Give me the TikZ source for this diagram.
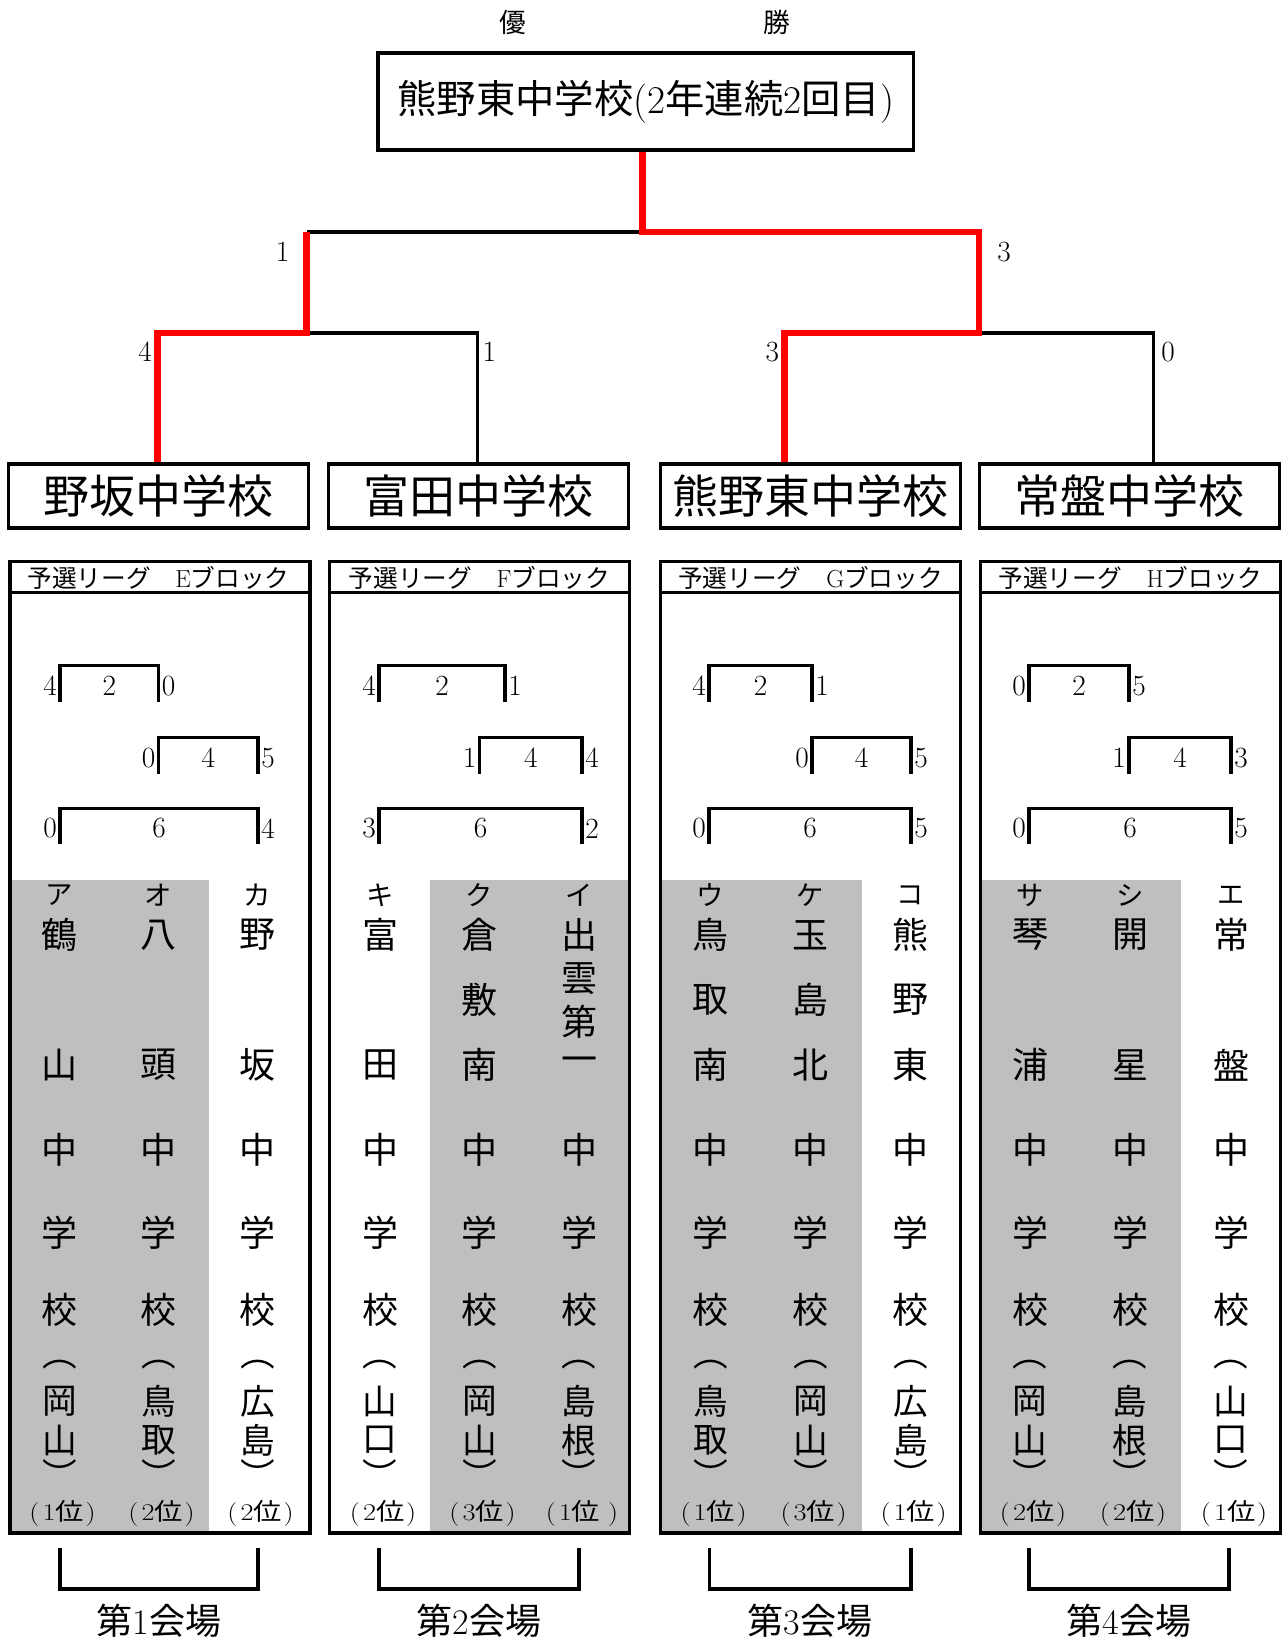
\documentclass[tikz,border=0pt]{standalone}
\usepackage{fontspec}
\newfontfamily\jp{Noto Sans CJK JP}
\usetikzlibrary{positioning}

\definecolor{winred}{RGB}{255,0,0}
\definecolor{leaguegray}{RGB}{191,191,191}

\tikzset{
  champbox/.style={draw, line width=2.5pt, minimum width=401.6pt, minimum height=72.75pt, inner sep=0pt, font=\fontsize{29.5}{34}\selectfont},
  teambox/.style={draw, line width=2.5pt, minimum width=225pt, minimum height=48pt, inner sep=0pt, font=\jp\fontsize{34.5}{40}\selectfont},
  treeline/.style={line width=2.3pt},
  winline/.style={line width=5pt, draw=winred},
  blockline/.style={line width=2.5pt},
  bracketline/.style={line width=2.3pt},
  score/.style={inner sep=0pt, font=\fontsize{22}{26}\selectfont},
  title/.style={inner sep=0pt, font=\jp\fontsize{20}{24}\selectfont},
  hdr/.style={inner sep=0pt, font=\fontsize{18.5}{22}\selectfont},
  kana/.style={inner sep=0pt, font=\jp\fontsize{20.5}{24}\selectfont},
  kanji/.style={inner sep=0pt, font=\jp\fontsize{27}{30}\selectfont},
  pref/.style={inner sep=0pt, font=\jp\fontsize{26}{30}\selectfont},
  rank/.style={inner sep=0pt, font=\fontsize{18}{22}\selectfont},
  venue/.style={inner sep=0pt, font=\fontsize{27}{32}\selectfont}
}

\newcommand{\leaguebox}[3]{%
  \fill[leaguegray] (#2,880) rectangle (#3,1533);
  \draw[blockline] (#1,561.7) rectangle ({#1+300},1533);
  \draw[blockline] (#1,592.7) -- ({#1+300},592.7);
}
\newcommand{\rrbracket}[7]{%
  \draw[bracketline] (#2,#4+36) -- (#2,#4) -- (#3,#4) -- (#3,#4+36);
  \node[score, anchor=east] (#1l) at (#2-3,#4+20) {#5};
  \node[score] (#1m) at ({(#2+#3)/2},#4+20) {#6};
  \node[score, anchor=west] (#1r) at (#3+3,#4+20) {#7};
}
\newcommand{\rk}[2][1pt]{\scalebox{1.18}[1]{(\hspace{2pt}#2{\jp 位}\hspace{#1})}}
\newcommand{\schoolcol}[8]{%
  \node[kana] (#1k) at (#2,895) {#3};
  \foreach \c [count=\i] in {#5} {
    \node[kanji] (#1n\i) at (#2,{935+(\i-1)*130/(#4-1)}) {\c};
  }
  \node[kanji] (#1a) at (#2,1150) {中};
  \node[kanji] (#1b) at (#2,1233) {学};
  \node[kanji] (#1c) at (#2,1310) {校};
  \node[pref] (#1o) at (#2,1365) {︵};
  \node[pref] (#1p) at (#2,1401) {#6};
  \node[pref] (#1q) at (#2,1440) {#7};
  \node[pref] (#1s) at (#2,1474) {︶};
  \node[rank] (#1r) at (#2+3,1513) {#8};
}

\begin{document}
\begin{tikzpicture}[x=0.75pt, y=-0.75pt]
\useasboundingbox (0,0) rectangle (1284,1642);

\node[title] (yu) at (513,22) {優};
\node[title] (sho) at (777,22) {勝};
\node[champbox] (champ) at (645.75,101.5) {{\jp 熊野東中学校}(2{\jp 年連続}2{\jp 回目})};

\node[teambox] (t1) at (158.5,496) {野坂中学校};
\node[teambox] (t2) at (478.5,496) {富田中学校};
\node[teambox] (t3) at (810.5,496) {熊野東中学校};
\node[teambox] (t4) at (1129.5,496) {常盤中学校};

\coordinate (fL) at (306.7,232);
\coordinate (fM) at (642.7,232);
\coordinate (fR) at (979,232);
\coordinate (s1) at (306.7,333);
\coordinate (s2) at (979,333);
\coordinate (a1) at (157.7,333);
\coordinate (a2) at (477.3,333);
\coordinate (a3) at (784.3,333);
\coordinate (a4) at (1153.3,333);

\draw[treeline] (fL) -- (fM);
\draw[treeline] (s1) -- (a2) -- (a2 |- t2.north);
\draw[treeline] (s2) -- (a4) -- (a4 |- t4.north);
\draw[winline] (a1 |- t1.north) -- (a1) -- (s1) -- (fL);
\draw[winline] (fM |- champ.south) -- (fM) -- (fR) -- (s2) -- (a3) -- (a3 |- t3.north);

\node[score] (sc1) at (282.7,251.7) {1};
\node[score] (sc2) at (1004,251.7) {3};
\node[score] (sc3) at (145,351.7) {4};
\node[score] (sc4) at (489.3,351.7) {1};
\node[score] (sc5) at (772.3,352) {3};
\node[score] (sc6) at (1168,352) {0};

\leaguebox{10}{10}{208.5}
\leaguebox{329.5}{429.5}{629.5}
\leaguebox{660.6}{660.6}{862}
\leaguebox{980.5}{980.5}{1181}

\node[hdr] (hE) at (158.5,578) {{\jp 予選リーグ　}E{\jp ブロック}};
\node[hdr] (hF) at (479.5,578) {{\jp 予選リーグ　}F{\jp ブロック}};
\node[hdr] (hG) at (810.6,578) {{\jp 予選リーグ　}G{\jp ブロック}};
\node[hdr] (hH) at (1130.5,578) {{\jp 予選リーグ　}H{\jp ブロック}};

\rrbracket{e1}{60}{158.5}{665.7}{4}{2}{0}
\rrbracket{e2}{158.5}{258}{737.7}{0}{4}{5}
\rrbracket{e3}{60}{258}{808.3}{0}{6}{4}
\rrbracket{f1}{379}{505}{665.7}{4}{2}{1}
\rrbracket{f2}{479.5}{582}{737.7}{1}{4}{4}
\rrbracket{f3}{379}{582}{808.3}{3}{6}{2}
\rrbracket{g1}{709}{812}{665.7}{4}{2}{1}
\rrbracket{g2}{812}{911}{737.7}{0}{4}{5}
\rrbracket{g3}{709}{911}{808.3}{0}{6}{5}
\rrbracket{h1}{1029}{1129}{665.7}{0}{2}{5}
\rrbracket{h2}{1129}{1231}{737.7}{1}{4}{3}
\rrbracket{h3}{1029}{1231}{808.3}{0}{6}{5}

\schoolcol{ea}{59.5}{ア}{2}{鶴,山}{岡}{山}{\rk{1}}
\schoolcol{eo}{158.5}{オ}{2}{八,頭}{鳥}{取}{\rk{2}}
\schoolcol{ek}{257.5}{カ}{2}{野,坂}{広}{島}{\rk{2}}
\schoolcol{fk}{380}{キ}{2}{富,田}{山}{口}{\rk{2}}
\schoolcol{fu}{479.5}{ク}{3}{倉,敷,南}{岡}{山}{\rk{3}}
\schoolcol{fi}{579}{イ}{4}{出,雲,第,一}{島}{根}{\rk[5pt]{1}}
\schoolcol{gu}{710.6}{ウ}{3}{鳥,取,南}{鳥}{取}{\rk{1}}
\schoolcol{gk}{810.6}{ケ}{3}{玉,島,北}{岡}{山}{\rk{3}}
\schoolcol{gc}{910.6}{コ}{3}{熊,野,東}{広}{島}{\rk{1}}
\schoolcol{hs}{1030}{サ}{2}{琴,浦}{岡}{山}{\rk{2}}
\schoolcol{hi}{1130}{シ}{2}{開,星}{島}{根}{\rk{2}}
\schoolcol{he}{1231}{エ}{2}{常,盤}{山}{口}{\rk{1}}

\draw[bracketline] (60,1548) -- (60,1589) -- (258,1589) -- (258,1548);
\draw[bracketline] (379,1548) -- (379,1589) -- (579,1589) -- (579,1548);
\draw[bracketline] (709.5,1548) -- (709.5,1589) -- (911,1589) -- (911,1548);
\draw[bracketline] (1029,1548) -- (1029,1589) -- (1229,1589) -- (1229,1548);

\node[venue] (v1) at (159,1621) {{\jp 第}1{\jp 会場}};
\node[venue] (v2) at (479,1621) {{\jp 第}2{\jp 会場}};
\node[venue] (v3) at (810,1621) {{\jp 第}3{\jp 会場}};
\node[venue] (v4) at (1129,1621) {{\jp 第}4{\jp 会場}};
\end{tikzpicture}
\end{document}
